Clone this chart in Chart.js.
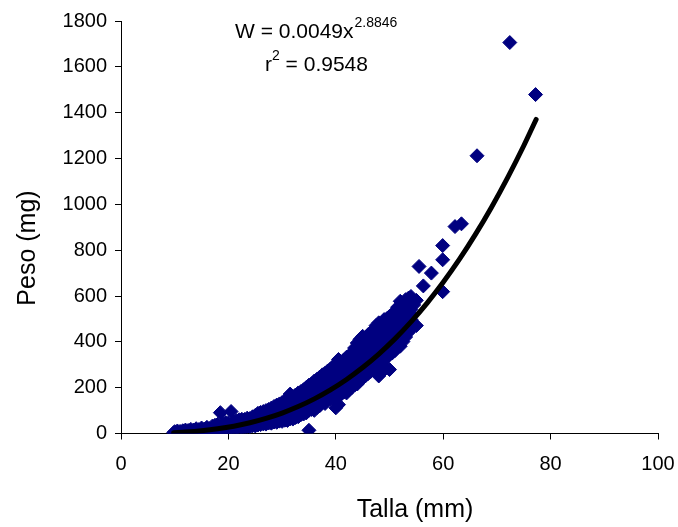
<!DOCTYPE html>
<html>
<head>
<meta charset="utf-8">
<script src="https://cdn.jsdelivr.net/npm/chart.js@4.4.0/dist/chart.umd.min.js"></script>
<style>
  html, body { margin: 0; padding: 0; background: #fff; }
  #wrap { width: 678px; height: 527px; }
</style>
</head>
<body>
<div id="wrap"><canvas id="peso_talla"></canvas></div>
<script>
// Talla (mm) y Peso (mg) de cada individuo
var talla = [
    9.8, 10, 10, 10.5, 10.5, 11, 11, 11.5, 11.5, 12, 12, 12,
    12.5, 12.5, 13, 13, 13, 13.5, 13.5, 14, 14, 14, 14.5, 14.5,
    15, 15, 15, 15.5, 15.5, 16, 16, 16, 16.5, 16.5, 17, 17, 17,
    17.5, 17.5, 17.5, 18, 18, 18, 18.5, 18.5, 18.5, 19, 19, 19,
    19.5, 19.5, 19.5, 20, 20, 20, 20.5, 20.5, 20.5, 21, 21, 21,
    21.5, 21.5, 21.5, 22, 22, 22, 22.5, 22.5, 22.5, 23, 23, 23,
    23.5, 23.5, 23.5, 24, 24, 24, 24.5, 24.5, 24.5, 25, 25, 25,
    25.5, 25.5, 25.5, 26, 26, 26, 26.5, 26.5, 26.5, 27, 27, 27,
    27.5, 27.5, 27.5, 28, 28, 28, 28.5, 28.5, 28.5, 29, 29, 29,
    29.5, 29.5, 29.5, 30, 30, 30, 30.5, 30.5, 30.5, 31, 31, 31,
    31.5, 31.5, 31.5, 32, 32, 32, 32.5, 32.5, 32.5, 33, 33, 33,
    33.5, 33.5, 33.5, 34, 34, 34, 34.5, 34.5, 34.5, 35, 35, 35, 35,
    35.5, 35.5, 35.5, 36, 36, 36, 36.5, 36.5, 36.5, 37, 37, 37, 37,
    37.5, 37.5, 37.5, 38, 38, 38, 38.5, 38.5, 38.5, 39, 39, 39,
    39.5, 39.5, 39.5, 40, 40, 40, 40.5, 40.5, 40.5, 41, 41, 41,
    41.5, 41.5, 41.5, 42, 42, 42, 42.5, 42.5, 42.5, 43, 43, 43,
    43.5, 43.5, 43.5, 44, 44, 44, 44.5, 44.5, 44.5, 45, 45, 45,
    45.5, 45.5, 45.5, 46, 46, 46, 46.5, 46.5, 46.5, 47, 47, 47,
    47.5, 47.5, 47.5, 48, 48, 48, 48.5, 48.5, 48.5, 49, 49, 49,
    49.5, 49.5, 49.5, 50, 50, 50, 50.5, 50.5, 50.5, 51, 51, 51,
    51.5, 51.5, 51.5, 52, 52, 52, 52.5, 52.5, 52.5, 53, 53, 53,
    53.5, 53.5, 53.5, 53.8, 54, 54, 54, 54.5, 54.5, 55, 55,
    55.5, 56.3, 57.8, 59.9, 59.9, 59.9, 62.2, 63.4, 66.3, 72.4, 77.2,
    25, 25, 26, 26, 27, 27, 28, 28, 29, 29, 30, 30, 31, 31,
    32, 32, 33, 33, 34, 34, 35, 35, 36, 36, 37, 37, 38, 38,
    39, 39, 40, 40, 40, 41, 41, 42, 42, 43, 43, 44, 44, 45, 45,
    46, 46, 47, 47, 48, 48, 49, 49, 50, 50, 51, 51, 52, 52,
    53, 53, 54, 54
];
var peso = [
    3, 1, 8, 4, 11, 3, 9, 6, 12, 4, 10, 15,
    7, 13, 5, 11, 18, 8, 15, 6, 13, 21, 9, 17,
    7, 14, 24, 11, 19, 9, 16, 27, 12, 21, 10, 19, 32,
    14, 25, 36, 12, 22, 40, 16, 28, 91, 14, 25, 43,
    18, 31, 48, 16, 28, 46, 20, 34, 96, 18, 32, 52,
    23, 37, 56, 21, 35, 60, 26, 41, 62, 25, 43, 61,
    30, 47, 67, 29, 46, 65, 34, 51, 73, 33, 53, 79,
    37, 57, 88, 39, 59, 92, 42, 63, 96, 41, 67, 100,
    46, 72, 105, 45, 76, 111, 50, 80, 118, 49, 84, 124,
    54, 88, 129, 53, 92, 135, 58, 97, 143, 57, 102, 151,
    64, 108, 172, 63, 112, 161, 70, 118, 168, 73, 124, 177,
    82, 130, 183, 85, 136, 191, 90, 142, 201, 14, 101, 148, 211,
    105, 154, 217, 101, 160, 229, 113, 167, 237, 121, 175, 223, 246,
    141, 181, 256, 131, 190, 263, 148, 197, 273, 151, 205, 281,
    161, 213, 293, 112, 221, 301, 126, 231, 323, 171, 239, 309,
    181, 249, 321, 177, 257, 333, 191, 267, 341, 201, 275, 351,
    211, 285, 373, 216, 293, 395, 231, 303, 411, 241, 313, 424,
    251, 323, 410, 261, 333, 431, 271, 345, 441, 281, 355, 451,
    291, 367, 471, 251, 377, 483, 301, 266, 391, 321, 401, 497,
    331, 411, 501, 279, 421, 511, 351, 441, 521, 361, 453, 531,
    396, 471, 551, 381, 481, 577, 401, 501, 561, 421, 511, 584,
    441, 531, 590, 591, 497, 541, 598, 468, 561, 471, 581,
    729, 644, 700, 619, 758, 820, 903, 915, 1212, 1706, 1479,
    43, 66, 49, 75, 54, 83, 60, 93, 66, 104, 72, 113, 79, 126,
    87, 136, 98, 150, 110, 163, 124, 178, 130, 195, 148, 200, 160, 226,
    178, 243, 190, 260, 150, 205, 275, 217, 295, 238, 312, 255, 340, 276, 368,
    297, 382, 318, 400, 330, 430, 360, 450, 380, 465, 407, 492, 430, 520,
    465, 545, 520, 570
];

// curva potencial ajustada (W = 0.0049x^2.8846)
var curvaX = [9.8, 12, 15, 18, 21, 24, 27, 30, 33, 36, 39, 42, 45, 48, 51, 54, 57, 60, 63, 66, 69, 72, 75, 77.3];
var curvaY = [3.5, 6.4, 12.1, 20.5, 31.9, 46.9, 65.9, 89.3, 117.6, 151.2, 190.5, 235.9, 287.9, 346.7, 412.9, 487, 569.2, 660, 759.5, 868.7, 987.6, 1116.7, 1255.7, 1370.4];

var xTicks = [0, 20, 40, 60, 80, 100];
var yTicks = [0, 200, 400, 600, 800, 1000, 1200, 1400, 1600, 1800];

var ecuacion = 'W = 0.0049x';
var exponente = '2.8846';
var r2Valor = ' = 0.9548';
var tituloX = 'Talla (mm)';
var tituloY = 'Peso (mg)';

var fontFam = "'Liberation Sans', Arial, sans-serif";

var puntos = talla.map((t, i) => ({ x: t, y: peso[i] }));
var curva = curvaX.map((t, i) => ({ x: t, y: curvaY[i] }));

// ecuacion y titulos de ejes
var textosPlugin = {
    id: 'textos',
    afterDraw: (chart) => {
        var ctx = chart.ctx;
        ctx.save();
        ctx.fillStyle = '#000';
        ctx.textAlign = 'left';
        ctx.textBaseline = 'alphabetic';

        ctx.font = '21px ' + fontFam;
        ctx.fillText(ecuacion, 235, 38);
        var w = ctx.measureText(ecuacion).width;
        ctx.font = '14px ' + fontFam;
        ctx.fillText(exponente, 235 + w + 1, 27);

        ctx.font = '21px ' + fontFam;
        ctx.fillText('r', 265, 71);
        var wr = ctx.measureText('r').width;
        ctx.font = '14px ' + fontFam;
        ctx.fillText('2', 265 + wr, 60);
        var w2 = ctx.measureText('2').width;
        ctx.font = '21px ' + fontFam;
        ctx.fillText(r2Valor, 265 + wr + w2, 71);

        ctx.font = '25px ' + fontFam;
        ctx.textAlign = 'center';
        ctx.textBaseline = 'middle';
        ctx.fillText(tituloX, 415, 510);
        ctx.translate(28, 248);
        ctx.rotate(-Math.PI / 2);
        ctx.fillText(tituloY, 0, 0);
        ctx.restore();
    }
};

var ctx_pt = document.getElementById('peso_talla');

var ptChart = new Chart(ctx_pt, {
    type: 'scatter',
    data: {
        datasets: [{
            label: 'curva',
            type: 'line',
            data: curva,
            borderColor: '#000',
            borderWidth: 5,
            pointRadius: 0,
            fill: false,
            cubicInterpolationMode: 'monotone',
            borderCapStyle: 'round',
            order: 0
        }, {
            label: 'Peso',
            data: puntos,
            pointStyle: 'rectRot',
            pointRadius: 7,
            backgroundColor: '#000080',
            borderColor: '#000080',
            borderWidth: 1,
            order: 1
        }]
    },
    plugins: [textosPlugin],
    options: {
        responsive: true,
        maintainAspectRatio: false,
        animation: false,
        events: [],
        layout: {
            padding: { left: 0, right: 20, top: 21, bottom: 0 }
        },
        plugins: {
            legend: { display: false },
            tooltip: { enabled: false }
        },
        scales: {
            x: {
                type: 'linear',
                min: 0,
                max: 100,
                afterFit: (scale) => {
                    scale.height = 93.5;
                    scale.paddingLeft = 0;
                    scale.paddingRight = 0;
                },
                afterBuildTicks: (scale) => { scale.ticks = xTicks.map(v => ({ value: v })); },
                grid: { display: true, drawOnChartArea: false, color: '#000', tickLength: 6, tickWidth: 1 },
                border: { display: true, color: '#000', width: 1 },
                ticks: { color: '#000', padding: 13, maxRotation: 0, font: { family: fontFam, size: 20 }, callback: v => String(v) }
            },
            y: {
                type: 'linear',
                min: 0,
                max: 1800,
                afterFit: (scale) => {
                    scale.width = 121;
                    scale.paddingTop = 0;
                    scale.paddingBottom = 0;
                },
                afterBuildTicks: (scale) => { scale.ticks = yTicks.map(v => ({ value: v })); },
                grid: { display: true, drawOnChartArea: false, color: '#000', tickLength: 6, tickWidth: 1 },
                border: { display: true, color: '#000', width: 1 },
                ticks: { color: '#000', padding: 8, font: { family: fontFam, size: 20 }, callback: v => String(v) }
            }
        }
    }
});
</script>
</body>
</html>
